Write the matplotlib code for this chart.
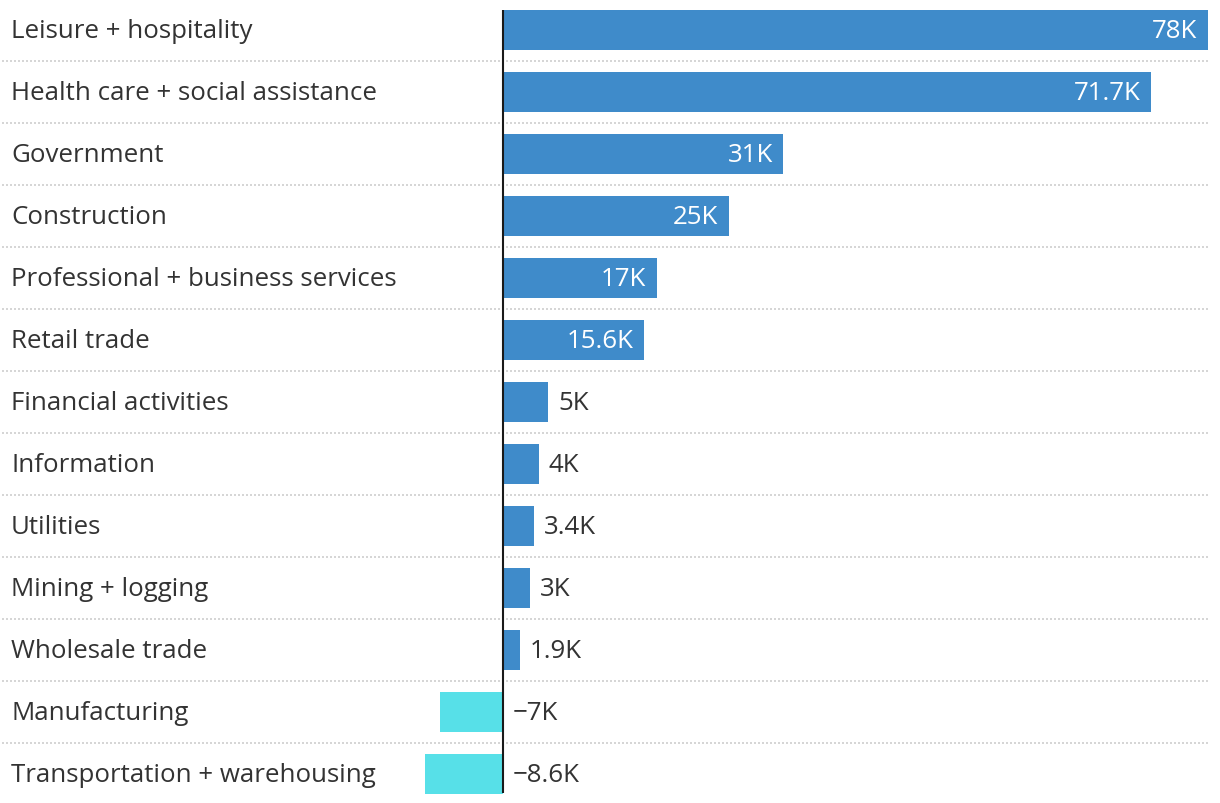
import matplotlib.pyplot as plt
import matplotlib.transforms as mtransforms

categories = [
    "Leisure + hospitality", "Health care + social assistance", "Government",
    "Construction", "Professional + business services", "Retail trade",
    "Financial activities", "Information", "Utilities", "Mining + logging",
    "Wholesale trade", "Manufacturing", "Transportation + warehousing",
]
values = [78, 71.7, 31, 25, 17, 15.6, 5, 4, 3.4, 3, 1.9, -7, -8.6]
value_labels = ["78K", "71.7K", "31K", "25K", "17K", "15.6K", "5K", "4K",
                "3.4K", "3K", "1.9K", "\u22127K", "\u22128.6K"]
inside_min = 10  # bars this big get the label inside

BLUE = "#3f8bca"
CYAN = "#57e0e8"
TEXT = "#333333"
FS = 18.6

plt.rcParams['font.family'] = ['Open Sans', 'DejaVu Sans']

W, H = 1220, 804
fig = plt.figure(figsize=(W / 100, H / 100), dpi=100)
ax = fig.add_axes([0, 0, 1, 1])

# pixel layout: zero at x=503, 9.04 px per 1K; rows 62 px apart, first centred at y=30
zero_px, px_per = 503, 705 / 78
ax.set_xlim(-zero_px / px_per, (W - zero_px) / px_per)
n = len(categories)
top_px = 30.5
ax.set_ylim(n - 1 + (H - top_px - 62 * (n - 1)) / 62, -top_px / 62)
ax.axis("off")

ys = list(range(n))
colors = [BLUE if v >= 0 else CYAN for v in values]
ax.barh(ys, values, height=40 / 62, color=colors, zorder=2)

# dotted separators
xform = mtransforms.blended_transform_factory(ax.transAxes, ax.transData)
for k in range(n - 1):
    ax.plot([2 / W, 1208 / W], [k + 0.5, k + 0.5], transform=xform,
            color="#d6d6d6", lw=1.44, ls=(0, (1, 1)), zorder=1)

# zero line
ax.vlines(0, -20 / 62, n - 1 + 19 / 62, color="#1a1a1a", lw=1.5, zorder=3)

base = 8 / 62  # baseline sits a bit below the row centre
for y, cat, v, lab in zip(ys, categories, values, value_labels):
    ax.text(11 / W, y + base, cat, transform=xform, ha="left", va="baseline",
            fontsize=FS, color=TEXT)
    if v >= inside_min:
        ax.annotate(lab, (v, y + base), xytext=(-7.5, 0), textcoords="offset points",
                    ha="right", va="baseline", fontsize=FS, color="white", zorder=4)
    else:
        x0 = max(v, 0)
        ax.annotate(lab, (x0, y + base), xytext=(7, 0), textcoords="offset points",
                    ha="left", va="baseline", fontsize=FS, color=TEXT, zorder=4)

fig.savefig("out.png", dpi=100)
